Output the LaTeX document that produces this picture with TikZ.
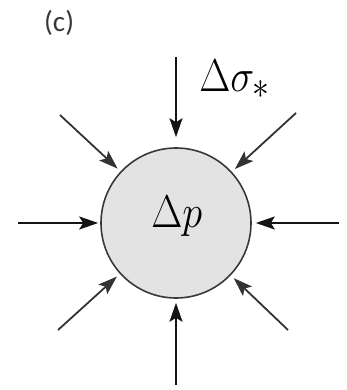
\documentclass[tikz,border=0pt]{standalone}
\usepackage{fontspec}
\newfontfamily\labelfont{Carlito}
\usetikzlibrary{arrows.meta}
\begin{document}
\begin{tikzpicture}[x=1pt,y=-1pt,
  force/.style={line width=1.8pt, draw=black!92,
    -{Stealth[length=19pt,width=13pt,inset=4pt]}},
  diagforce/.style={force, draw=black!80},
  ball/.style={circle, draw=black!78, line width=1.6pt, fill=black!11,
    minimum size=150pt, inner sep=0pt},
  mathlabel/.style={inner sep=0pt, anchor=base west, font=\Huge,
    xscale=1.62, yscale=1.85, transform shape}
]
\useasboundingbox (0,0) rectangle (347,390);
\node[ball] (c) at (176,223) {};
\node[mathlabel] (dp) at (151,227) {$\Delta p$};
\node[mathlabel] (ds) at (199,92) {$\Delta\sigma_*$};
\node[inner sep=0pt, anchor=base west, text=black!78,
  font=\labelfont\fontsize{29}{34}\selectfont] (lab) at (44,32) {(c)};
\coordinate (t) at (176,57);
\coordinate (b) at (176,385);
\coordinate (l) at (18,223);
\coordinate (r) at (339,223);
\coordinate (ul) at (60,115);
\coordinate (ur) at (296,113);
\coordinate (ll) at (58,330);
\coordinate (lr) at (288,330);
\draw[force, shorten >=10pt] (t) -- (c);
\draw[force, shorten >=4pt] (b) -- (c);
\draw[force, shorten >=2pt] (l) -- (c);
\draw[force, shorten >=4pt] (r) -- (c);
\draw[diagforce, shorten >=4pt] (ul) -- (c);
\draw[diagforce, shorten >=4pt] (ur) -- (c);
\draw[diagforce, shorten >=4pt] (ll) -- (c);
\draw[diagforce, shorten >=4pt] (lr) -- (c);
\end{tikzpicture}
\end{document}
